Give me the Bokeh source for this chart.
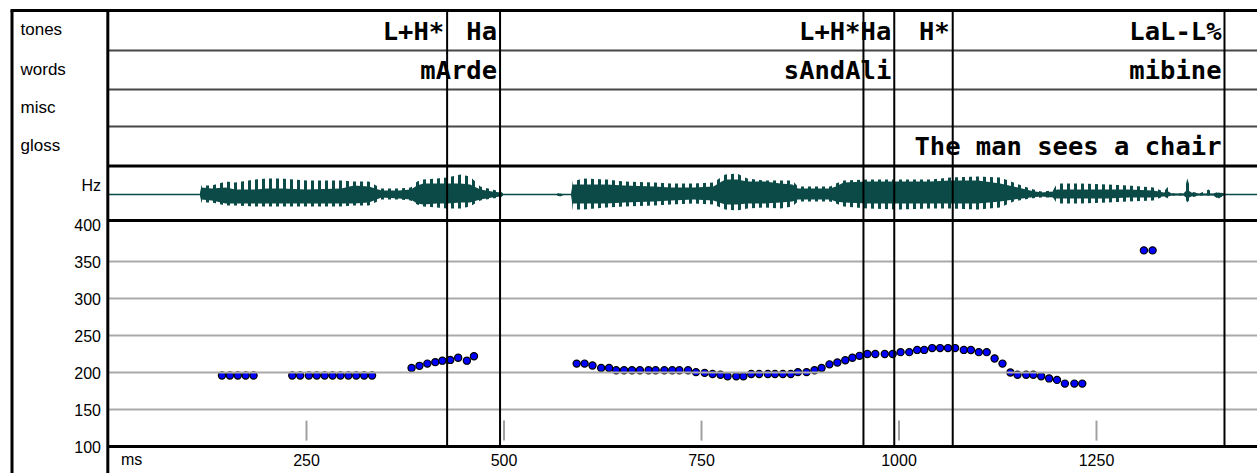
from bokeh.plotting import figure
from bokeh.models import Range1d
from bokeh.core.properties import value
from bokeh.embed import file_html
from bokeh.resources import INLINE

# ---------------- data ----------------
tier_names = ["tones", "words", "misc", "gloss"]

tone_times = [428, 495, 955, 994, 1068, 1412]
tone_labels = ["L+H*", "Ha", "L+H*", "Ha", "H*", "LaL-L%"]
word_times = [495, 994, 1412]
word_labels = ["mArde", "sAndAli", "mibine"]
misc_times = []
misc_labels = []
gloss_times = [1412]
gloss_labels = ["The man sees a chair"]
boundary_times = [428, 495, 955, 994, 1068, 1412]

f0_times = [143, 153, 163, 173, 183,
            232, 242, 253, 263, 273, 283, 293, 303, 313, 323, 333,
            383, 393, 403, 413, 422, 432, 442, 453, 462,
            592, 602, 612, 623, 633, 642, 652, 662, 672, 683, 692, 703, 713, 722, 733,
            743, 754, 764, 774, 783, 794, 803, 813, 823, 834, 843, 853, 863, 872, 883,
            893, 902, 912, 922, 932, 941, 950, 960, 970, 982, 992, 1002, 1013, 1023, 1032,
            1042, 1052, 1062, 1071, 1082, 1091, 1101, 1111, 1121, 1131, 1141, 1150, 1161,
            1170, 1180, 1190, 1200, 1210, 1222, 1232,
            1310, 1321]
f0_hz = [196, 196, 196, 196, 196,
         196, 196, 196, 196, 196, 196, 196, 196, 196, 196, 196,
         206, 209, 212, 214, 216, 217, 220, 216, 222,
         212, 212, 209.5, 206, 206, 203, 203, 203, 203, 203, 203, 203, 203, 203, 203,
         200.5, 199.5, 198, 197, 195, 195, 195, 198, 198, 198, 198, 198, 198, 200.5, 200.5,
         203, 206, 211, 213.5, 216.5, 220, 222.5, 225, 225, 225, 225, 227.5, 227.5, 230.5, 230.5,
         233, 233, 233, 233, 230.5, 230.5, 227.5, 227.5, 219, 212, 200, 197, 197,
         197, 195, 192, 190, 185, 185, 185,
         365, 365]

# waveform envelope (arbitrary amplitude units)
wave_t = [0, 115, 117, 130, 148, 160, 185, 200, 218, 250, 294, 310, 329, 345, 367, 382, 390,
          398, 415, 428, 445, 457, 470, 485, 496, 500, 565, 571, 577, 585, 587, 600, 630, 652,
          690, 711, 740, 765, 780, 795, 808, 830, 850, 865, 872, 890, 913, 920, 930, 960, 1000,
          1040, 1065, 1100, 1128, 1145, 1166, 1180, 1195, 1200, 1230, 1264, 1290, 1322, 1335,
          1341, 1345, 1360, 1365, 1370, 1380, 1392, 1398, 1405, 1410, 1415, 1444]
core_up = [0, 0, 7, 6, 7, 5, 5, 6, 6, 5, 6, 9, 8, 4, 4, 5, 9,
           11, 11, 11, 11, 10, 5, 3, 2, 0, 0, 1, 0, 0, 10, 10, 10, 9,
           8, 7, 7, 8, 15, 15, 13, 13, 11, 10, 6, 6, 6, 8, 12, 13, 13,
           13, 14, 14, 11, 8, 4, 2, 3, 5, 5, 5, 5, 4, 2,
           3, 1, 1, 5, 2, 1, 1, 1, 2, 1, 0, 0]
core_dn = [0, 0, 5, 6, 9, 9, 9, 9, 9, 9, 9, 9, 8, 3, 4, 5, 9,
           10, 9, 9, 8, 8, 5, 3, 2, 0, 0, 2, 0, 0, 9, 9, 9, 8,
           7, 6, 5, 6, 10, 10, 9, 9, 8, 7, 5, 5, 5, 7, 8, 9, 9,
           9, 9, 9, 7, 5, 3, 2, 3, 4, 4, 4, 3, 3, 2,
           2, 1, 1, 4, 2, 1, 1, 1, 4, 1, 0, 0]
peak_up = [0, 0, 9, 9, 13, 12, 15, 16, 16, 14, 14, 13, 13, 6, 6, 7, 13,
           15, 16, 17, 20, 18, 8, 5, 3, 0, 0, 2, 0, 0, 13, 16, 15, 13,
           12, 11, 11, 12, 20, 21, 16, 14, 14, 14, 8, 8, 8, 11, 14, 15, 15,
           15, 17, 18, 17, 12, 6, 3, 4, 11, 11, 10, 9, 7, 3,
           8, 1, 1, 16, 3, 1, 5, 1, 3, 1, 0, 0]
peak_dn = [0, 0, 8, 8, 11, 11, 12, 12, 12, 12, 12, 11, 11, 5, 5, 6, 10,
           12, 13, 14, 14, 12, 6, 4, 3, 0, 0, 2, 0, 0, 15, 15, 13, 12,
           11, 10, 9, 10, 15, 16, 14, 13, 14, 12, 7, 7, 7, 9, 12, 14, 15,
           14, 14, 15, 13, 7, 4, 3, 3, 9, 9, 8, 7, 6, 2,
           4, 1, 1, 8, 3, 1, 1, 1, 5, 1, 0, 0]

hz_ticks = [100, 150, 200, 250, 300, 350, 400]
hz_grid = [150, 200, 250, 300, 350]
ms_ticks = [250, 500, 750, 1000, 1250]

# ---------------- layout constants ----------------
W, H = 1257, 473
PX_PER_MS = 0.79
X_T0 = 108.5          # page x of t = 0
PX_PER_HZ = 0.74
Y_HZ100 = 446.0       # page y of 100 Hz
WAVE_BASE = 194.0     # page y of waveform zero
LEFT, TOP, RIGHT, BOTTOM = 0, 0, W, H

x_start = (LEFT - X_T0) / PX_PER_MS
x_end = (RIGHT - X_T0) / PX_PER_MS

p = figure(width=W, height=H, output_backend="svg", toolbar_location=None,
           x_range=Range1d(x_start, x_end),
           y_range=Range1d(100 - (BOTTOM - Y_HZ100) / PX_PER_HZ, 100 + (Y_HZ100 - TOP) / PX_PER_HZ),
           min_border_left=0, min_border_right=0, min_border_top=0, min_border_bottom=0,
           background_fill_color="white", border_fill_color="white",
           outline_line_color=None)
p.axis.visible = False
p.grid.visible = False
p.extra_y_ranges = {"lay": Range1d(BOTTOM, TOP),
                    "amp": Range1d(WAVE_BASE - BOTTOM, WAVE_BASE - TOP)}

# row geometry (page y)
row_edges = [10, 50, 89, 126, 165.5]
row_centers = [(a + b) / 2 for a, b in zip(row_edges[:-1], row_edges[1:])]
WAVE_BOTTOM = 220
PITCH_BOTTOM = 446
DIVIDER = -1.5   # ms (page x ~107)

wcol = "#0b4a46"

# ---- pitch panel ----
p.scatter(f0_times, f0_hz, size=7.2, fill_color="#0000ff", line_color="black", line_width=1.2)
p.segment(x0=0, x1=x_end, y0=hz_grid, y1=hz_grid, line_color="#a9a9a9", line_width=2)
p.segment(x0=ms_ticks, x1=ms_ticks, y0=108, y1=135, line_color="#a0a0a0", line_width=2)

# ---- waveform ----
p.varea(x=wave_t, y1=[-d for d in peak_dn], y2=peak_up, y_range_name="amp",
        fill_color=None, fill_alpha=0, hatch_pattern="vertical_line", hatch_color=wcol,
        hatch_scale=7, hatch_weight=3)
p.varea(x=wave_t, y1=[-d for d in core_dn], y2=core_up, y_range_name="amp", fill_color=wcol)
p.segment(x0=0, x1=x_end, y0=0, y1=0, y_range_name="amp", line_color=wcol, line_width=1.5)

# ---- tier texts ----
mono = value("DejaVu Sans Mono")
tier_data = [(tone_times, tone_labels), (word_times, word_labels),
             (misc_times, misc_labels), (gloss_times, gloss_labels)]
for (ts, labs), yc in zip(tier_data, row_centers):
    if ts:
        p.text(x=ts, y=[yc] * len(ts), text=labs, y_range_name="lay",
               text_font=mono, text_font_style="bold", text_font_size="25.5px",
               text_align="right", text_baseline="middle", x_offset=-3, text_color="black")

# ---- structure lines ----
p.segment(x0=DIVIDER, x1=x_end, y0=row_edges[1:4], y1=row_edges[1:4], y_range_name="lay",
          line_color="#474747", line_width=2)
p.segment(x0=DIVIDER, x1=x_end, y0=[row_edges[4], WAVE_BOTTOM, PITCH_BOTTOM],
          y1=[row_edges[4], WAVE_BOTTOM, PITCH_BOTTOM], y_range_name="lay",
          line_color="black", line_width=3)
p.segment(x0=x_start + 10 / PX_PER_MS, x1=x_end, y0=10, y1=10, y_range_name="lay",
          line_color="black", line_width=3)
p.segment(x0=[x_start + 11.5 / PX_PER_MS, DIVIDER], x1=[x_start + 11.5 / PX_PER_MS, DIVIDER],
          y0=10, y1=BOTTOM, y_range_name="lay", line_color="black", line_width=3)
# interval boundaries
p.segment(x0=boundary_times, x1=boundary_times, y0=10, y1=PITCH_BOTTOM, y_range_name="lay",
          line_color="black", line_width=2)

# ---- labels ----
sans = value("Liberation Sans")
p.text(x=[x_start] * 4, y=[c - 1 for c in row_centers], text=tier_names, y_range_name="lay",
       x_offset=20, text_font=sans, text_font_size="17px", text_align="left",
       text_baseline="middle", text_color="black")
p.text(x=[0] * len(hz_ticks), y=hz_ticks, text=[str(v) for v in hz_ticks],
       x_offset=-8, text_font=sans, text_font_size="16px", text_align="right",
       text_baseline="middle", text_color="black")
p.text(x=[0], y=[9], text=["Hz"], y_range_name="amp", x_offset=-8, text_font=sans,
       text_font_size="16px", text_align="right", text_baseline="middle", text_color="black")
p.text(x=ms_ticks, y=[459] * len(ms_ticks), text=[str(v) for v in ms_ticks], y_range_name="lay",
       text_font=sans, text_font_size="16px", text_align="center", text_baseline="middle",
       text_color="black")
p.text(x=[0], y=[459], text=["ms"], y_range_name="lay", x_offset=12, text_font=sans,
       text_font_size="16px", text_align="left", text_baseline="middle", text_color="black")

open("out.html", "w").write(file_html(p, INLINE))
